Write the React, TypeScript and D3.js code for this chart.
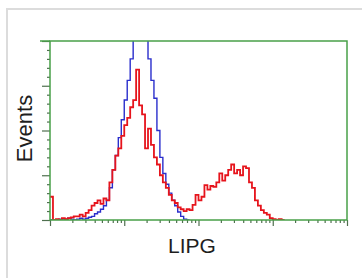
import { useEffect, useRef } from 'react';
import * as d3 from 'd3';

const width = 362;
const height = 278;
// plot box
const margin = { top: 41, right: 15, bottom: 58, left: 50 };

// log x axis, 4 decades, 25 histogram bins per decade
const decades = [1, 10, 100, 1000, 10000];
const binsPerDecade = 25;
const yMajor = [0, 25, 50, 75, 100];

// event counts per bin
const redCounts = [
  13, 0, 0.5, 0, 1, 0.5, 1, 1.5, 2, 2,
  3, 2, 4, 5.5, 8, 9.5, 11, 9, 12, 11,
  21, 28, 36, 40, 47, 53, 57, 63, 67, 84,
  64, 59, 40, 51, 42, 35, 31, 25, 21, 18,
  14, 11, 9.5, 7, 6, 5, 6, 5.5, 8.5, 14,
  11, 13, 19.5, 17, 19, 18.5, 21, 26, 22, 25,
  28, 31, 26, 28, 25, 30, 29, 21, 18, 11,
  8, 5.5, 4, 3, 1, 0.5, 0, 0.5, 0,
];
const blueCounts = [
  0, 0, 0, 0.5, 0, 0.5, 1, 0.5, 0, 0.5,
  1, 0.5, 1, 1.5, 2, 3.5, 4.5, 6, 8, 11,
  18, 28, 36, 46, 56, 67, 78, 90, 103, 110,
  115, 112, 105, 90, 78, 68, 50, 35, 26, 20,
  15, 11, 8, 4.5, 2, 0.5, 0,
];

const frameColor = '#48a048';
const tickColor = '#4f6f4f';

const App = () => {
  const ref = useRef<SVGSVGElement>(null);

  useEffect(() => {
    const svg = d3.select(ref.current);
    svg.selectAll('*').remove();

    const x0 = margin.left;
    const x1 = width - margin.right;
    const y0 = height - margin.bottom;
    const y1 = margin.top;

    const x = d3.scaleLog().domain([1, 10000]).range([x0, x1]);
    const y = d3.scaleLinear().domain([0, 100]).range([y0, y1]);

    // outer light frame
    svg.append('rect')
      .attr('x', 7).attr('y', 9)
      .attr('width', width + 20).attr('height', height + 20)
      .attr('fill', 'white')
      .attr('stroke', '#dcdcdc')
      .attr('stroke-width', 2);

    svg.append('clipPath').attr('id', 'plotClip')
      .append('rect')
      .attr('x', x0).attr('y', y1)
      .attr('width', x1 - x0).attr('height', y0 - y1);

    const edge = (i: number) => Math.pow(10, i / binsPerDecade);
    const stepLine = (counts: number[]) => {
      const pts = counts.map((c, i) => [edge(i), c] as [number, number]);
      pts.push([edge(counts.length), counts[counts.length - 1]]);
      return d3.line<[number, number]>()
        .x((d) => x(d[0]))
        .y((d) => y(d[1]))
        .curve(d3.curveStepAfter)(pts);
    };

    const lines = svg.append('g').attr('clip-path', 'url(#plotClip)');
    lines.append('path')
      .attr('d', stepLine(blueCounts))
      .attr('fill', 'none')
      .attr('stroke', '#2a2ecc')
      .attr('stroke-width', 1.4);
    lines.append('path')
      .attr('d', stepLine(redCounts))
      .attr('fill', 'none')
      .attr('stroke', '#e6141c')
      .attr('stroke-width', 1.8);

    // y axis: majors + minors, pointing left
    const yMinor = d3.range(0, 101, 5).filter((v) => !yMajor.includes(v));
    svg.append('g')
      .attr('transform', `translate(${x0},0)`)
      .call(d3.axisLeft(y).tickValues(yMinor).tickSize(3).tickFormat(() => ''))
      .call((g) => g.select('.domain').remove());
    svg.append('g')
      .attr('transform', `translate(${x0},0)`)
      .call(d3.axisLeft(y).tickValues(yMajor).tickSize(8).tickFormat(() => ''))
      .call((g) => g.select('.domain').remove());

    // x axis: decades + minor log ticks, pointing down
    const xMinor: number[] = [];
    decades.slice(0, -1).forEach((d) => {
      for (let k = 2; k <= 9; k++) xMinor.push(d * k);
    });
    svg.append('g')
      .attr('transform', `translate(0,${y0})`)
      .call(d3.axisBottom(x).tickValues(xMinor).tickSize(3).tickFormat(() => ''))
      .call((g) => g.select('.domain').remove());
    svg.append('g')
      .attr('transform', `translate(0,${y0})`)
      .call(d3.axisBottom(x).tickValues(decades).tickSize(6).tickFormat(() => ''))
      .call((g) => g.select('.domain').remove());

    svg.selectAll('.tick line')
      .attr('stroke', tickColor)
      .attr('stroke-width', 1.2);

    // plot frame
    svg.append('rect')
      .attr('x', x0).attr('y', y1)
      .attr('width', x1 - x0).attr('height', y0 - y1)
      .attr('fill', 'none')
      .attr('stroke', frameColor)
      .attr('stroke-width', 1.5);
    // top line extends into the top major tick
    svg.append('line')
      .attr('x1', x0 - 10).attr('x2', x0)
      .attr('y1', y1).attr('y2', y1)
      .attr('stroke', frameColor)
      .attr('stroke-width', 1.5);

    svg.append('text')
      .attr('transform', `translate(32,${(y0 + y1) / 2 - 2}) rotate(-90)`)
      .attr('text-anchor', 'middle')
      .attr('font-family', 'Liberation Sans, Arial, sans-serif')
      .attr('font-size', 22)
      .attr('fill', '#1e1e1e')
      .text('Events');

    svg.append('text')
      .attr('x', 192).attr('y', 253)
      .attr('text-anchor', 'middle')
      .attr('font-family', 'Liberation Sans, Arial, sans-serif')
      .attr('font-size', 21)
      .attr('fill', '#1e1e1e')
      .text('LIPG');
  }, []);

  return (
    <svg
      ref={ref}
      width={width}
      height={height}
      style={{ position: 'absolute', left: 0, top: 0, background: 'white' }}
    />
  );
};

export default App;
